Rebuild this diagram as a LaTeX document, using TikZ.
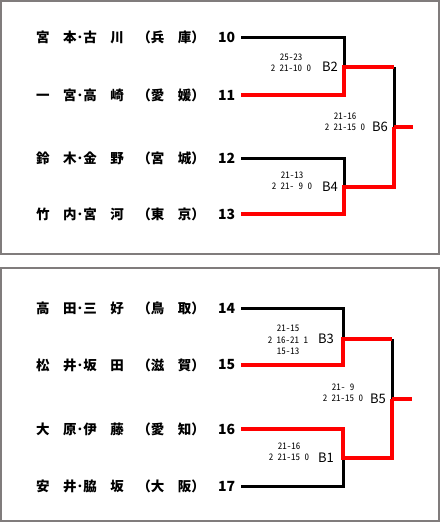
\documentclass[tikz,border=0pt]{standalone}
\usepackage{fontspec}
\newfontfamily\jp{Noto Sans CJK JP}
\newfontfamily\scorefont[RawFeature=+hwid]{Noto Sans CJK JP}
\usetikzlibrary{positioning}
\definecolor{framegray}{RGB}{128,124,124}

\begin{document}
\begin{tikzpicture}[x=1pt, y=-1pt,
    pairname/.style={anchor=west, inner sep=0pt, font=\jp\bfseries\fontsize{13.5}{14}\selectfont},
    seednum/.style={anchor=west, inner sep=0pt, font=\jp\bfseries\fontsize{14}{14}\selectfont},
    blabel/.style={inner sep=0pt, font=\jp\fontsize{13}{13}\selectfont},
    score/.style={align=center, inner sep=0pt, font=\scorefont\fontsize{9}{11.5}\selectfont},
    win/.style={red, line width=3.5pt},
    lose/.style={black, line width=3pt},
    panel/.style={draw=framegray, line width=1.5pt}]
    \useasboundingbox (0,0) rectangle (441,522);
    % Panels
    \draw[panel] (1,1) rectangle (439,254);
    \draw[panel] (1,268) rectangle (439,521);
    % Upper block: pairs
    \node[pairname] at (36,37) {宮　本･古　川　（兵　庫）};
    \node[pairname] at (36,95) {一　宮･高　崎　（愛　媛）};
    \node[pairname] at (36,158) {鈴　木･金　野　（宮　城）};
    \node[pairname] at (36,214) {竹　内･宮　河　（東　京）};
    \node[seednum] (n10) at (218,37) {10};
    \node[seednum] (n11) at (218,95) {11};
    \node[seednum] (n12) at (218,158) {12};
    \node[seednum] (n13) at (218,214) {13};
    % Upper block: junctions
    \coordinate (b2) at (344,67);
    \coordinate (b4) at (344,187);
    \coordinate (b6) at (394,127);
    \coordinate (out6) at (413,127);
    \draw[lose] ([xshift=6pt]n10.east) -| (b2);
    \draw[lose] ([xshift=6pt]n12.east) -| (b4);
    \draw[lose] (b2 -| b6) -- (b6);
    \draw[win] ([xshift=6pt]n11.east) -| (b2) -- (b2 -| b6);
    \draw[win] ([xshift=6pt]n13.east) -| (b4) -| (b6);
    \draw[win] (b6) -- (out6);
    % Upper block: match labels
    \node[blabel, left=6pt of b2] (lb2) {B2};
    \node[blabel, left=6pt of b4] (lb4) {B4};
    \node[blabel, left=6pt of b6] (lb6) {B6};
    \node[score] (s2) at (291,63) {25-23\\2 21-10 0};
    \node[score] (s4) at (292,181) {21-13\\2 21- 9 0};
    \node[score] (s6) at (345,122) {21-16\\2 21-15 0};
    % Lower block: pairs
    \node[pairname] at (36,308) {高　田･三　好　（鳥　取）};
    \node[pairname] at (36,365) {松　井･坂　田　（滋　賀）};
    \node[pairname] at (36,429) {大　原･伊　藤　（愛　知）};
    \node[pairname] at (36,486) {安　井･脇　坂　（大　阪）};
    \node[seednum] (n14) at (218,308) {14};
    \node[seednum] (n15) at (218,365) {15};
    \node[seednum] (n16) at (218,429) {16};
    \node[seednum] (n17) at (218,486) {17};
    % Lower block: junctions
    \coordinate (b3) at (343,339);
    \coordinate (b1) at (343,458);
    \coordinate (b5) at (392,399);
    \coordinate (out5) at (412,399);
    \draw[lose] ([xshift=6pt]n14.east) -| (b3);
    \draw[lose] ([xshift=6pt]n17.east) -| (b1);
    \draw[lose] (b3 -| b5) -- (b5);
    \draw[win] ([xshift=6pt]n15.east) -| (b3) -- (b3 -| b5);
    \draw[win] ([xshift=6pt]n16.east) -| (b1) -| (b5);
    \draw[win] (b5) -- (out5);
    % Lower block: match labels
    \node[blabel, left=9pt of b3] (lb3) {B3};
    \node[blabel, left=9pt of b1] (lb1) {B1};
    \node[blabel, left=6pt of b5] (lb5) {B5};
    \node[score] (s3) at (288,340) {21-15\\2 16-21 1\\15-13};
    \node[score] (s1) at (289,452) {21-16\\2 21-15 0};
    \node[score] (s5) at (343,393) {21- 9\\2 21-15 0};
\end{tikzpicture}
\end{document}
